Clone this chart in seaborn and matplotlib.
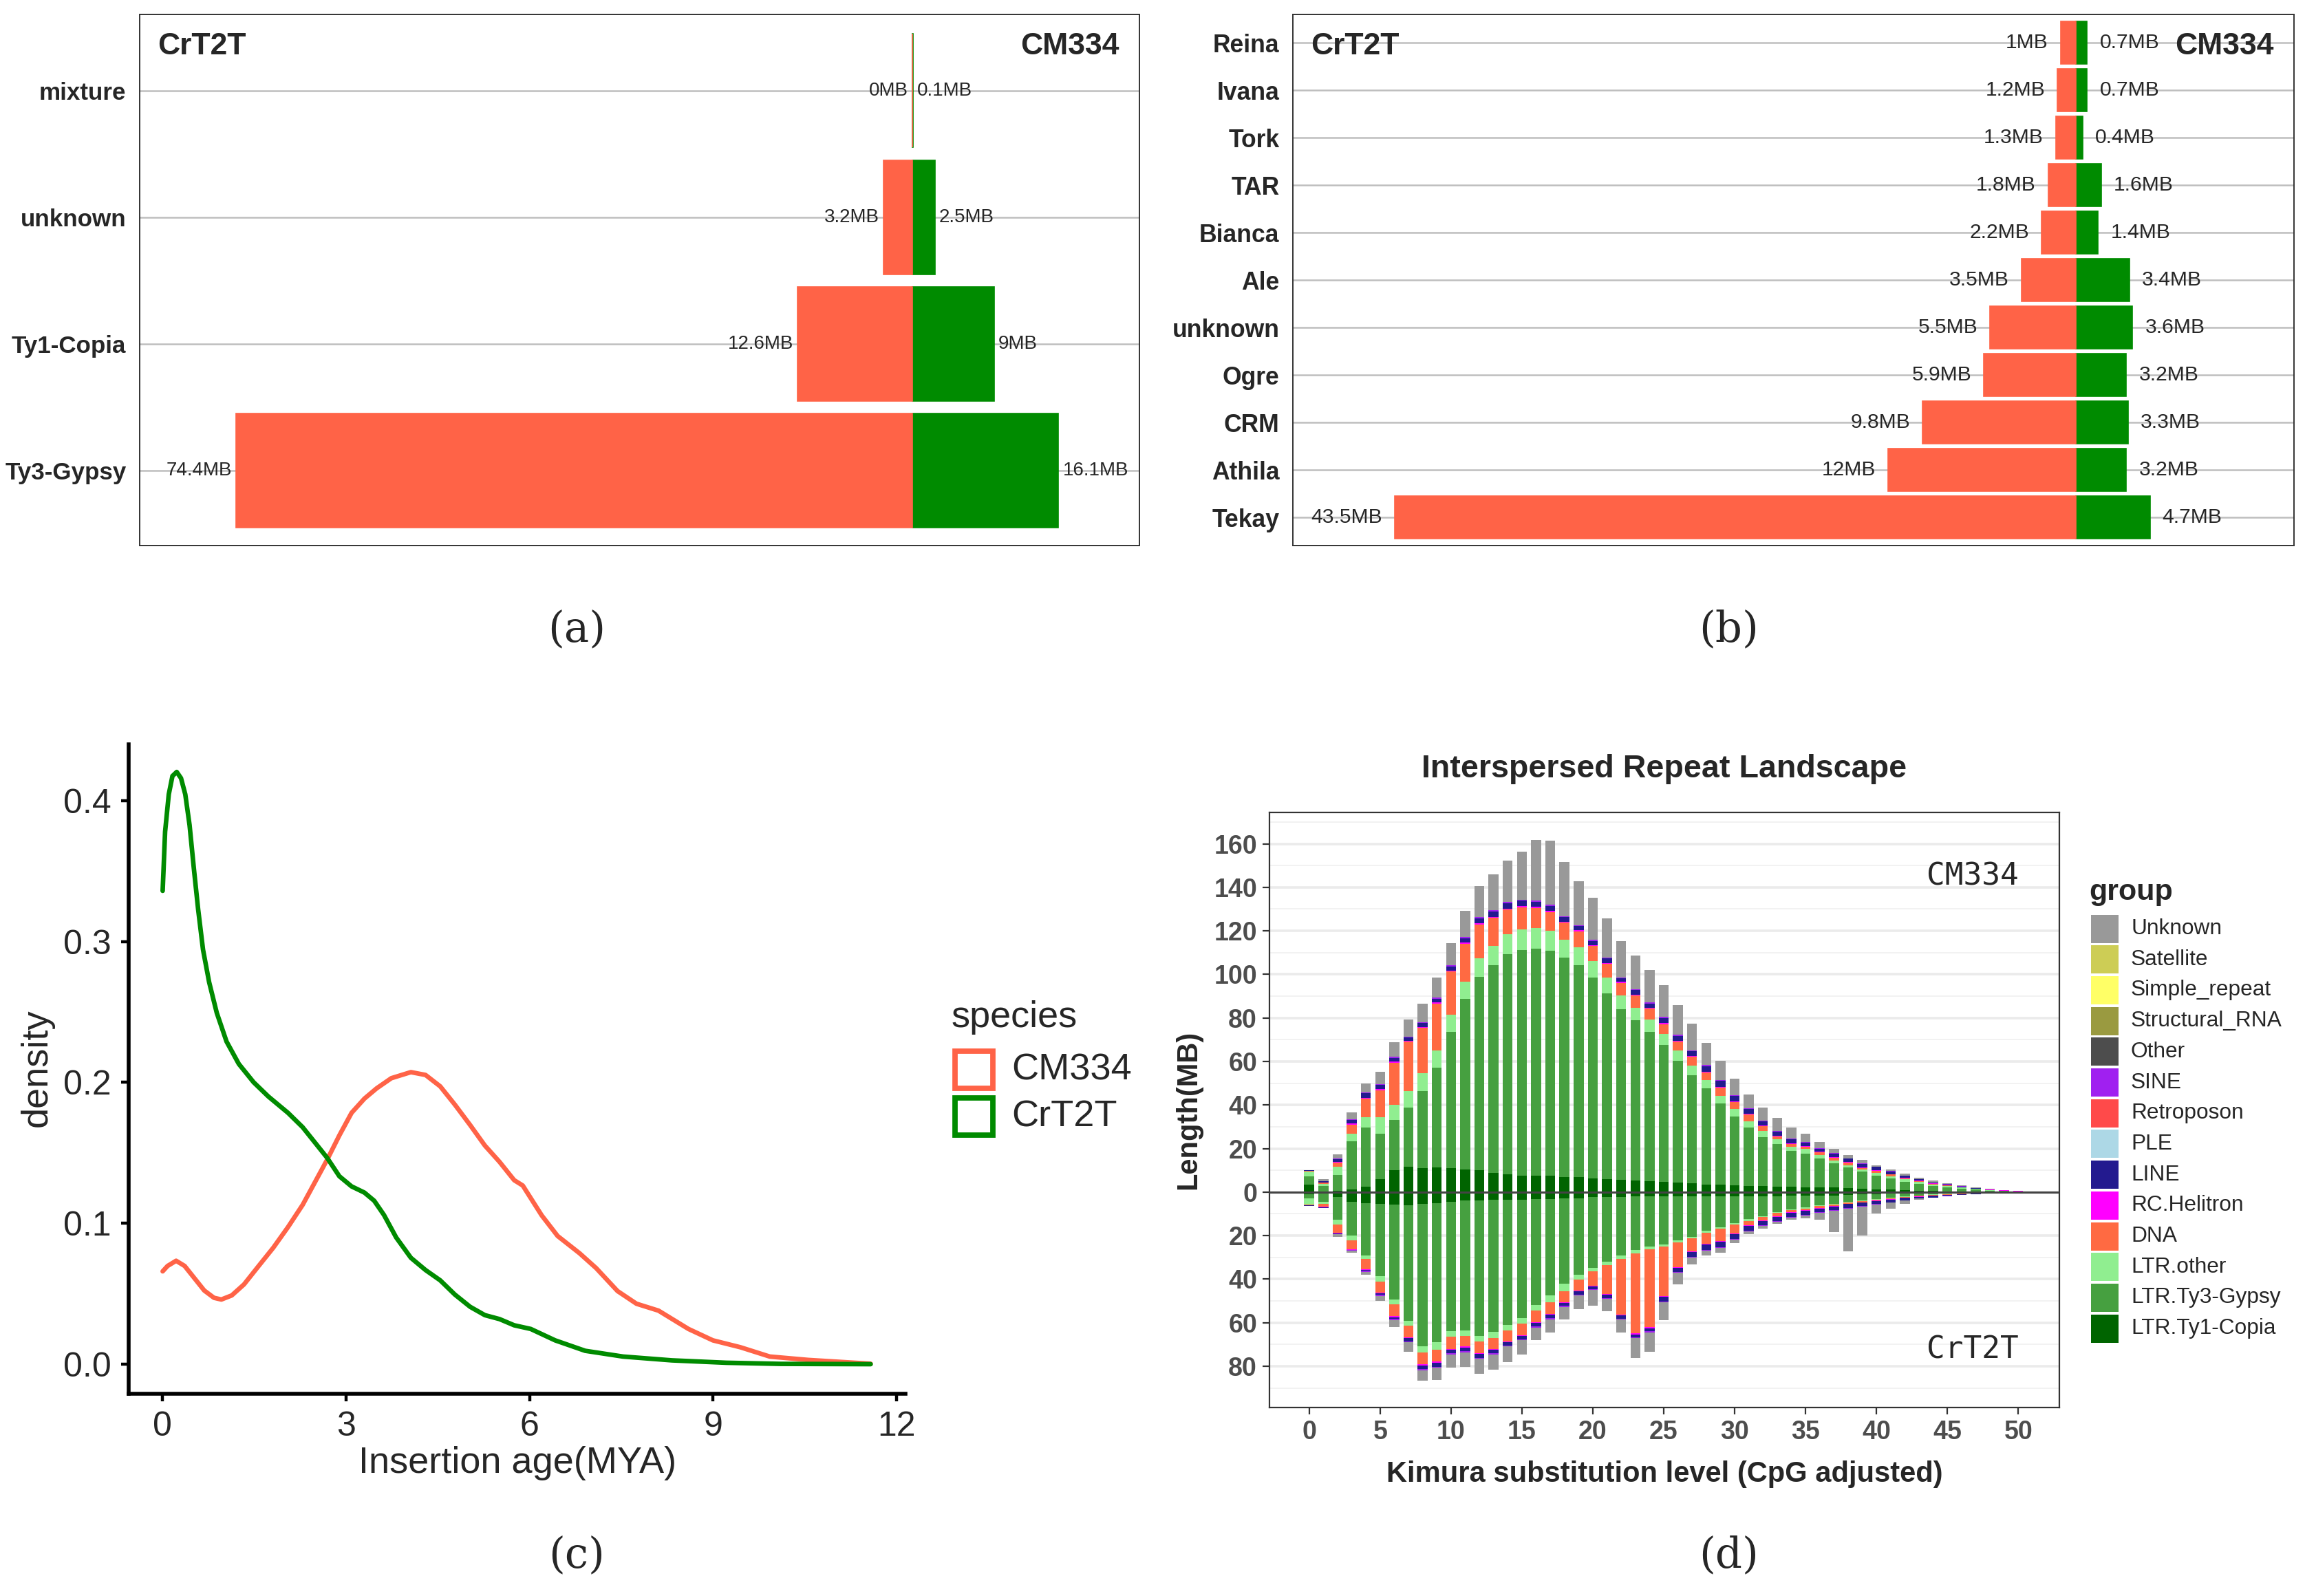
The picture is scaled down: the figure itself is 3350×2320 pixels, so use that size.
import numpy as np
import pandas as pd
import seaborn as sns
import matplotlib.pyplot as plt
from matplotlib.patches import Rectangle
from matplotlib.ticker import FuncFormatter, MultipleLocator

# ---------------- data ----------------
# (a) LTR superfamilies, MB
sup_names = ['mixture', 'unknown', 'Ty1-Copia', 'Ty3-Gypsy']
sup_crt2t = [0, 3.2, 12.6, 74.4]
sup_cm334 = [0.1, 2.5, 9, 16.1]

# (b) LTR lineages, MB
lin_names = ['Reina', 'Ivana', 'Tork', 'TAR', 'Bianca', 'Ale', 'unknown',
             'Ogre', 'CRM', 'Athila', 'Tekay']
lin_crt2t = [1, 1.2, 1.3, 1.8, 2.2, 3.5, 5.5, 5.9, 9.8, 12, 43.5]
lin_cm334 = [0.7, 0.7, 0.4, 1.6, 1.4, 3.4, 3.6, 3.2, 3.3, 3.2, 4.7]

# (c) insertion age density curves
age_crt2t = [0, 0.04, 0.10, 0.16, 0.23, 0.30, 0.37, 0.44, 0.51, 0.58, 0.66, 0.76, 0.885,
             1.045, 1.246, 1.488, 1.729, 2.05, 2.29, 2.53, 2.69, 2.89, 3.09, 3.30, 3.46,
             3.62, 3.82, 4.06, 4.30, 4.54, 4.78, 5.03, 5.27, 5.51, 5.75, 6.02, 6.42, 6.91,
             7.53, 8.33, 9.22, 10.11, 11.58]
dens_crt2t = [0.336, 0.378, 0.4045, 0.4175, 0.4204, 0.416, 0.4045, 0.3827, 0.352, 0.323,
              0.2943, 0.2712, 0.2494, 0.229, 0.2131, 0.2001, 0.19, 0.1784, 0.1682, 0.1552,
              0.1465, 0.1334, 0.1262, 0.1218, 0.116, 0.1059, 0.0899, 0.0755, 0.0668,
              0.0595, 0.0494, 0.0407, 0.0348, 0.032, 0.0276, 0.025, 0.0169, 0.0095, 0.0054,
              0.0027, 0.001, 0.0002, 0.0]
age_cm334 = [0, 0.08, 0.22, 0.36, 0.52, 0.68, 0.84, 0.96, 1.13, 1.33, 1.57, 1.81, 2.05,
             2.29, 2.49, 2.69, 2.89, 3.09, 3.30, 3.50, 3.74, 4.06, 4.30, 4.54, 4.78, 5.03,
             5.27, 5.51, 5.75, 5.89, 6.20, 6.46, 6.82, 7.09, 7.44, 7.75, 8.11, 8.60, 9.0,
             9.45, 9.93, 10.56, 11.58]
dens_cm334 = [0.0659, 0.0697, 0.0734, 0.0697, 0.061, 0.0523, 0.0471, 0.0459, 0.0488,
              0.0566, 0.0697, 0.0827, 0.0973, 0.1131, 0.1291, 0.1451, 0.1624, 0.1784,
              0.1885, 0.1958, 0.203, 0.2073, 0.2053, 0.1972, 0.1842, 0.1697, 0.1552,
              0.1436, 0.1306, 0.1268, 0.1056, 0.091, 0.0787, 0.0682, 0.0519, 0.0429, 0.038,
              0.025, 0.0169, 0.012, 0.0054, 0.003, 0.0003]

# (d) repeat landscape: Kimura bins 0..50, cumulative tops (MB) as read
kimura = list(range(51))
cm_copia = [3.3, 0.2, 0.6, 1.2, 2.4, 5.8, 10.0, 11.5, 10.9, 11.2, 10.9, 10.5, 9.9, 8.9, 8.0,
            7.4, 7.4, 7.4, 6.9, 6.8, 6.4, 5.9, 5.6, 5.3, 5.0, 4.7, 4.4, 4.0, 3.5, 3.3, 3.1,
            2.9, 2.9, 2.4, 2.4, 2.2, 2.0, 2.0, 1.8, 1.6, 1.3, 1.1, 0.9, 0.7, 0.5, 0.4, 0.3,
            0.2, 0.1, 0.1, 0.05]
cm_gypsy = [7.3, 2.9, 7.7, 23.4, 29.5, 26.9, 33.0, 38.9, 46.5, 57.0, 73.7, 88.7, 99.0,
            104.2, 109.4, 111.3, 111.9, 110.9, 107.6, 104.2, 98.4, 91.4, 83.9, 78.8, 73.7,
            67.7, 60.3, 53.7, 47.5, 40.8, 34.6, 29.5, 25.3, 22.0, 18.8, 17.5, 15.3, 13.3,
            11.3, 9.3, 7.5, 6.2, 4.7, 3.8, 2.9, 2.2, 1.6, 1.1, 0.7, 0.5, 0.3]
cm_ltr_other = [9.3, 3.6, 11.5, 26.9, 34.3, 34.3, 40.0, 46.5, 54.6, 65.1, 81.4, 96.6, 107.3,
                113.2, 118.3, 120.7, 121.4, 120.1, 116.0, 112.5, 106.0, 98.4, 90.2, 84.7,
                79.2, 72.5, 64.9, 58.1, 51.4, 44.3, 38.1, 32.6, 28.2, 24.2, 20.8, 19.7,
                16.9, 14.6, 12.4, 10.4, 8.9, 7.3, 5.8, 4.7, 3.5, 2.7, 2.0, 1.4, 0.9, 0.6,
                0.35]
cm_dna = [9.6, 4.4, 13.5, 31.0, 42.9, 46.8, 59.5, 69.1, 75.4, 86.6, 101.3, 114.1, 122.9,
          125.9, 129.8, 130.8, 130.5, 128.6, 123.7, 119.8, 113.0, 104.9, 96.1, 90.3, 84.2,
          77.2, 69.1, 62.1, 54.8, 47.9, 41.2, 35.7, 30.2, 25.5, 22.2, 20.8, 18.2, 15.7,
          13.5, 11.1, 9.8, 8.0, 6.4, 5.1, 3.8, 3.0, 2.2, 1.5, 1.0, 0.7, 0.4]
cm_line = [10.0, 5.0, 15.0, 33.1, 45.3, 49.2, 61.6, 70.9, 77.6, 88.8, 103.6, 116.5, 125.7,
           128.9, 132.7, 133.8, 133.4, 131.4, 126.3, 122.1, 115.4, 107.3, 98.2, 92.7, 86.6,
           80.0, 71.8, 64.7, 57.9, 51.0, 44.1, 38.1, 32.6, 27.7, 24.2, 22.6, 20.0, 17.7,
           15.3, 12.9, 11.5, 9.5, 7.5, 5.8, 4.4, 3.5, 2.6, 1.8, 1.2, 0.8, 0.5]
cm_unknown = [10.2, 5.8, 17.2, 36.5, 49.8, 55.1, 68.9, 79.4, 86.6, 98.6, 114.3, 129.3, 140.7,
              146.1, 152.3, 156.4, 161.6, 161.3, 151.5, 142.8, 135.2, 125.6, 115.2, 108.7,
              102.1, 95.1, 86.0, 77.4, 68.5, 60.3, 52.1, 44.8, 38.8, 34.1, 29.7, 26.8, 23.0,
              19.7, 16.9, 14.9, 12.4, 10.4, 8.4, 6.7, 5.3, 4.0, 3.0, 2.1, 1.4, 1.0, 0.6]
# thin layers (segment lengths, MB)
cm_helitron = [0.1, 0.1, 0.3, 0.4, 0.4, 0.5, 0.5, 0.5, 0.5, 0.5, 0.5, 0.6, 0.6, 0.5, 0.5,
               0.5, 0.5, 0.5, 0.5, 0.5, 0.4, 0.4, 0.4, 0.4, 0.4, 0.4, 0.4, 0.4, 0.3, 0.3,
               0.3, 0.3, 0.3, 0.3, 0.3, 0.3, 0.3, 0.3, 0.3, 0.2, 0.2, 0.2, 0.2, 0.1, 0.1,
               0.1, 0.1, 0.1, 0.05, 0.05, 0.05]
cm_sine = [0.1, 0.1, 0.3, 0.4, 0.4, 0.5, 0.5, 0.5, 0.5, 0.5, 0.6, 0.6, 0.6, 0.6, 0.6, 0.6,
           0.6, 0.6, 0.5, 0.5, 0.5, 0.5, 0.5, 0.5, 0.5, 0.5, 0.4, 0.4, 0.4, 0.4, 0.3, 0.3,
           0.3, 0.3, 0.3, 0.3, 0.3, 0.3, 0.2, 0.2, 0.2, 0.2, 0.1, 0.1, 0.1, 0.1, 0.1, 0.05,
           0.05, 0.05, 0.05]

ct_copia = [1.0, 0.6, 2.3, 4.4, 5.2, 5.5, 5.8, 6.1, 5.5, 5.2, 4.5, 3.9, 3.9, 3.6, 3.6, 3.6,
            3.3, 3.3, 2.9, 2.9, 2.3, 2.3, 2.3, 2.0, 2.0, 2.0, 2.0, 2.0, 2.0, 2.0, 2.0, 2.0,
            2.0, 2.0, 1.8, 1.5, 1.5, 1.5, 1.3, 1.05, 1.05, 0.7, 0.7, 0.4, 0.4, 0.3, 0.2,
            0.2, 0.1, 0.05, 0.03]
ct_gypsy = [2.8, 4.4, 12.6, 20.0, 29.2, 38.6, 49.4, 59.2, 71.0, 68.9, 63.9, 63.5, 66.0,
            64.2, 61.1, 57.9, 51.9, 47.5, 42.1, 38.1, 34.9, 32.0, 29.2, 26.7, 25.1, 24.2,
            22.3, 20.7, 17.9, 16.2, 14.2, 12.5, 11.1, 9.2, 7.9, 7.1, 6.2, 5.5, 4.4, 3.9,
            3.2, 2.5, 2.1, 1.6, 1.05, 0.8, 0.6, 0.4, 0.3, 0.15, 0.1]
ct_ltr_other = [5.7, 5.5, 14.9, 22.1, 30.7, 41.1, 51.5, 61.3, 73.7, 72.3, 66.3, 66.0, 68.8,
                67.1, 63.6, 60.4, 54.4, 50.6, 45.5, 40.2, 36.4, 33.6, 30.7, 28.1, 26.3,
                24.9, 23.2, 21.3, 18.6, 16.7, 14.9, 13.3, 11.6, 9.7, 8.4, 7.6, 6.5, 5.9,
                4.8, 4.2, 3.5, 2.8, 2.3, 1.8, 1.3, 1.0, 0.7, 0.5, 0.35, 0.2, 0.12]
ct_dna = [6.0, 6.8, 18.6, 26.3, 35.5, 46.2, 57.1, 66.7, 79.2, 77.9, 72.0, 71.0, 74.1, 72.1,
          68.6, 65.7, 59.7, 56.0, 50.5, 45.2, 43.1, 46.8, 56.3, 65.0, 62.1, 47.8, 34.6,
          27.3, 23.9, 22.6, 18.9, 15.3, 13.1, 11.1, 9.3, 8.4, 7.4, 6.4, 5.4, 4.7, 3.9, 3.2,
          2.6, 2.1, 1.6, 1.2, 0.9, 0.6, 0.4, 0.25, 0.15]
ct_line = [6.3, 7.2, 19.2, 26.7, 36.2, 47.3, 58.3, 68.6, 81.3, 80.2, 74.1, 73.2, 76.2, 74.1,
           70.5, 67.6, 61.8, 57.9, 52.3, 47.1, 44.6, 48.6, 58.1, 66.7, 64.0, 50.2, 36.8,
           29.7, 26.5, 25.3, 21.5, 17.8, 15.3, 13.4, 11.4, 10.4, 9.3, 8.4, 7.3, 6.4, 5.5,
           4.7, 3.8, 2.9, 2.5, 1.8, 1.3, 0.9, 0.6, 0.4, 0.25]
ct_unknown = [6.4, 7.4, 20.5, 27.8, 37.9, 50.0, 62.1, 73.4, 86.7, 86.5, 80.7, 80.2, 83.4,
              81.5, 78.1, 74.7, 68.1, 64.4, 58.7, 53.9, 52.3, 54.9, 64.6, 76.3, 73.4, 58.8,
              42.3, 33.4, 29.1, 27.8, 23.5, 19.3, 16.8, 14.5, 12.6, 12.1, 12.6, 18.3, 27.3,
              20.0, 9.8, 7.6, 5.4, 3.5, 2.7, 2.0, 1.4, 1.0, 0.7, 0.45, 0.3]
ct_helitron = [0.1, 0.1, 0.3, 0.3, 0.4, 0.4, 0.4, 0.4, 0.4, 0.4, 0.4, 0.4, 0.4, 0.4, 0.4,
               0.4, 0.4, 0.4, 0.4, 0.4, 0.3, 0.3, 0.4, 0.4, 0.4, 0.4, 0.3, 0.3, 0.3, 0.3,
               0.3, 0.3, 0.3, 0.3, 0.3, 0.3, 0.2, 0.2, 0.2, 0.2, 0.2, 0.2, 0.1, 0.1, 0.1,
               0.1, 0.1, 0.05, 0.05, 0.05, 0.03]
ct_sine = [0.1, 0.1, 0.3, 0.3, 0.4, 0.4, 0.5, 0.5, 0.5, 0.5, 0.5, 0.5, 0.5, 0.5, 0.5, 0.5,
           0.5, 0.5, 0.4, 0.4, 0.4, 0.4, 0.4, 0.4, 0.4, 0.4, 0.4, 0.4, 0.3, 0.3, 0.3, 0.3,
           0.3, 0.3, 0.3, 0.3, 0.3, 0.3, 0.2, 0.2, 0.2, 0.2, 0.1, 0.1, 0.1, 0.1, 0.1, 0.05,
           0.05, 0.05, 0.03]

groups = ['Unknown', 'Satellite', 'Simple_repeat', 'Structural_RNA', 'Other', 'SINE',
          'Retroposon', 'PLE', 'LINE', 'RC.Helitron', 'DNA', 'LTR.other', 'LTR.Ty3-Gypsy',
          'LTR.Ty1-Copia']
group_colors = ['#999999', '#CDCD55', '#FFFF66', '#9A9A40', '#4D4D4D', '#A020F0',
                '#FF4A4A', '#ADD8E6', '#231A8F', '#FF00FF', '#FF6A42', '#90EE90',
                '#46A040', '#006400']

# panels a/b colour CrT2T red, panel c colours CM334 red
bar_pal = {'CrT2T': '#FF6347', 'CM334': '#008B00'}
dens_pal = {'CM334': '#FF6347', 'CrT2T': '#008B00'}

# ---------------- figure ----------------
sns.set_style('white')
plt.rcParams['font.family'] = ['Liberation Sans', 'DejaVu Sans']

W, H, DPI = 3350, 2320, 200
fig = plt.figure(figsize=(W / DPI, H / DPI), dpi=DPI)


def px_axes(l, t, r, b):
    return fig.add_axes([l / W, 1 - b / H, (r - l) / W, (b - t) / H])


def fx(x):
    return x / W


def fy(y):
    return 1 - y / H


def mirror_panel(ax, cats, crt, cm, xlim, gap, val_size, cat_size):
    n = len(cats)
    df = pd.DataFrame({'name': cats + cats,
                       'species': ['CrT2T'] * n + ['CM334'] * n,
                       'MB': crt + cm})
    df['signed'] = np.where(df['species'] == 'CrT2T', -df['MB'], df['MB'])
    sns.barplot(data=df, y='name', x='signed', hue='species', order=cats,
                hue_order=['CrT2T', 'CM334'], palette=bar_pal, dodge=False,
                width=0.9, saturation=1, errorbar=None, legend=False, orient='h',
                ax=ax, zorder=2)
    for p in ax.patches:
        p.set_edgecolor(p.get_facecolor())
        p.set_linewidth(0.6)
        # keep the red (CrT2T) bars on top so a zero bar still shows its edge
        if p.get_x() + p.get_width() <= 0:
            p.set_zorder(2.5)
    for i, (a, b) in enumerate(zip(crt, cm)):
        ax.annotate(f'{a:g}MB', xy=(-a, i), xytext=(-gap, 0), textcoords='offset points',
                    ha='right', va='center', fontsize=val_size, zorder=3)
        ax.annotate(f'{b:g}MB', xy=(b, i), xytext=(gap, 0), textcoords='offset points',
                    ha='left', va='center', fontsize=val_size, zorder=3)
    ax.set_xlim(*xlim)
    ax.set_ylim(n - 0.41, -0.6)
    ax.set_xlabel('')
    ax.set_ylabel('')
    ax.set_xticks([])
    ax.grid(axis='y', color='#BEBEBE', lw=0.9)
    ax.grid(axis='x', visible=False)
    ax.set_axisbelow(True)
    ax.tick_params(axis='y', left=False, pad=3.5, labelsize=cat_size)
    for lab in ax.get_yticklabels():
        lab.set_fontweight('bold')
    for s in ax.spines.values():
        s.set_visible(True)
        s.set_color('#333333')
        s.set_linewidth(0.7)
    ax.text(0.018, 0.94, 'CrT2T', transform=ax.transAxes, ha='left', va='center',
            fontsize=16, fontweight='bold')
    ax.text(0.98, 0.94, 'CM334', transform=ax.transAxes, ha='right', va='center',
            fontsize=16, fontweight='bold')


# (a)
ax_a = px_axes(203, 21, 1656, 793)
mirror_panel(ax_a, sup_names, sup_crt2t, sup_cm334, (-85, 25), 2.2, 10, 12.6)

# (b)
ax_b = px_axes(1879, 21, 3334, 793)
mirror_panel(ax_b, lin_names, lin_crt2t, lin_cm334, (-50, 13.9), 6.5, 10.8, 12.8)

# (c)
ax_c = px_axes(187, 1082, 1316, 2026)
dens = pd.DataFrame({'age': age_cm334 + age_crt2t,
                     'density': dens_cm334 + dens_crt2t,
                     'species': ['CM334'] * len(age_cm334) + ['CrT2T'] * len(age_crt2t)})
sns.lineplot(data=dens, x='age', y='density', hue='species', palette=dens_pal,
             estimator=None, sort=False, lw=2.4, legend=False, ax=ax_c)
ax_c.set_xlim(-0.556, 12.15)
ax_c.set_ylim(-0.021, 0.44)
ax_c.set_xticks([0, 3, 6, 9, 12])
ax_c.set_yticks([0.0, 0.1, 0.2, 0.3, 0.4])
ax_c.yaxis.set_major_formatter(FuncFormatter(lambda v, p: f'{v:.1f}'))
for side in ['top', 'right']:
    ax_c.spines[side].set_visible(False)
for side in ['left', 'bottom']:
    ax_c.spines[side].set_color('black')
    ax_c.spines[side].set_linewidth(2.0)
ax_c.tick_params(axis='both', direction='out', length=4, width=1.6, color='black',
                 labelsize=18, pad=5, left=True, bottom=True)
ax_c.set_xlabel('')
ax_c.set_ylabel('')
fig.text(fx(54), fy(1552), 'density', rotation=90, ha='center', va='center', fontsize=19.5)
fig.text(fx(752), fy(2127), 'Insertion age(MYA)', ha='center', va='center', fontsize=19.5)

# (c) legend
fig.text(fx(1383), fy(1479), 'species', ha='left', va='center', fontsize=19.5)
for i, sp in enumerate(['CM334', 'CrT2T']):
    top = 1526 + 68 * i
    fig.patches.append(Rectangle((fx(1388), fy(top + 56)), 55 / W, 54 / H,
                                 transform=fig.transFigure, facecolor='white',
                                 edgecolor=dens_pal[sp], lw=2.8))
    fig.text(fx(1470), fy(top + 29), sp, ha='left', va='center', fontsize=19.5)

# (d)
ax_d = px_axes(1845, 1181, 2993, 2046)
x = np.array(kimura)
bw = 0.7


def layers(copia, gypsy, other, dna, helitron, line, sine, unknown):
    copia, gypsy, other, dna = map(np.array, (copia, gypsy, other, dna))
    helitron, line, sine, unknown = map(np.array, (helitron, line, sine, unknown))
    hel = np.minimum(helitron, np.clip(line - dna, 0, None))
    sin = np.minimum(sine, np.clip(unknown - line, 0, None))
    return [('LTR.Ty1-Copia', copia),
            ('LTR.Ty3-Gypsy', np.clip(gypsy - copia, 0, None)),
            ('LTR.other', np.clip(other - gypsy, 0, None)),
            ('DNA', np.clip(dna - other, 0, None)),
            ('RC.Helitron', hel),
            ('LINE', np.clip(line - dna - hel, 0, None)),
            ('SINE', sin),
            ('Unknown', np.clip(unknown - line - sin, 0, None))]


cmap = dict(zip(groups, group_colors))
for sign, lay in [(1, layers(cm_copia, cm_gypsy, cm_ltr_other, cm_dna, cm_helitron,
                             cm_line, cm_sine, cm_unknown)),
                  (-1, layers(ct_copia, ct_gypsy, ct_ltr_other, ct_dna, ct_helitron,
                              ct_line, ct_sine, ct_unknown))]:
    base = np.zeros(len(x))
    for name, seg in lay:
        ax_d.bar(x, sign * seg, bottom=sign * base, width=bw, color=cmap[name],
                 lw=0, zorder=2)
        base = base + seg

ax_d.axhline(0, color='#444444', lw=1.1, zorder=3)
ax_d.set_xlim(-2.8, 52.9)
ax_d.set_ylim(-99, 174.4)
ax_d.set_xticks(range(0, 51, 5))
ax_d.set_yticks(range(-80, 161, 20))
ax_d.yaxis.set_minor_locator(MultipleLocator(10))
ax_d.yaxis.set_major_formatter(FuncFormatter(lambda v, p: f'{abs(v):.0f}'))
ax_d.grid(axis='y', which='major', color='#EBEBEB', lw=1.3)
ax_d.grid(axis='y', which='minor', color='#F2F2F2', lw=0.7)
ax_d.grid(axis='x', visible=False)
ax_d.set_axisbelow(True)
for s in ax_d.spines.values():
    s.set_visible(True)
    s.set_color('#333333')
    s.set_linewidth(0.8)
ax_d.tick_params(axis='both', which='major', direction='out', length=3.5, width=0.8,
                 color='#333333', labelsize=13.5, labelcolor='#4D4D4D', pad=3,
                 left=True, bottom=True)
ax_d.tick_params(axis='y', which='minor', left=False)
for lab in ax_d.get_xticklabels() + ax_d.get_yticklabels():
    lab.set_fontweight('bold')
ax_d.text(46.8, 145, 'CM334', ha='center', va='center', fontsize=16,
          family='DejaVu Sans Mono')
ax_d.text(46.8, -72.4, 'CrT2T', ha='center', va='center', fontsize=16,
          family='DejaVu Sans Mono')
fig.text(fx(2419), fy(1118), 'Interspersed Repeat Landscape', ha='center', va='center',
         fontsize=16.8, fontweight='bold')
fig.text(fx(1727), fy(1613), 'Length(MB)', rotation=90, ha='center', va='center',
         fontsize=15, fontweight='bold')
fig.text(fx(2419), fy(2143), 'Kimura substitution level (CpG adjusted)', ha='center',
         va='center', fontsize=15, fontweight='bold')

# (d) legend
fig.text(fx(3036), fy(1297), 'group', ha='left', va='center', fontsize=15.5,
         fontweight='bold')
for i, (g, c) in enumerate(zip(groups, group_colors)):
    cy = 1350 + 44.7 * i
    fig.patches.append(Rectangle((fx(3039), fy(cy + 20.5)), 40 / W, 41 / H,
                                 transform=fig.transFigure, facecolor=c, lw=0))
    fig.text(fx(3097), fy(cy), g, ha='left', va='center', fontsize=11.4)

# panel captions
cap_font = ['DejaVu Serif', 'Liberation Serif']
for lab, cx, cy in [('(a)', 838, 915), ('(b)', 2513, 915),
                    ('(c)', 838, 2261), ('(d)', 2513, 2261)]:
    fig.text(fx(cx), fy(cy), lab, ha='center', va='center', fontsize=22, family=cap_font)

fig.savefig('out.png', dpi=DPI)
